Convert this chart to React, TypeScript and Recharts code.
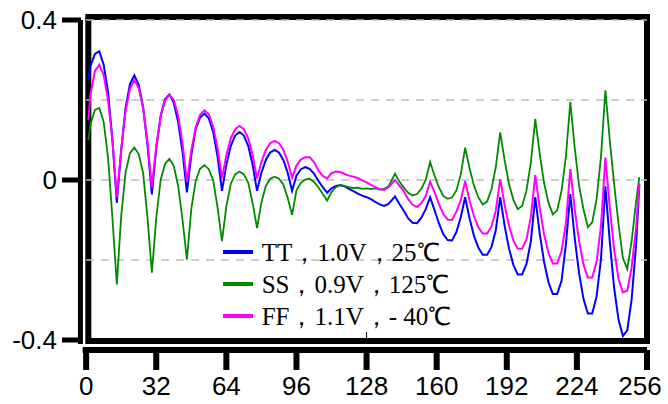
import { LineChart, Line, XAxis, YAxis, Legend, ReferenceLine, ReferenceArea } from 'recharts';

const xs = [
  1, 2, 4, 6, 8, 10, 12, 14, 16, 18, 20, 22, 24, 26, 28, 30, 32, 34, 36, 38, 40, 42, 44, 46, 48, 50,
  52, 54, 56, 58, 60, 62, 64, 66, 68, 70, 72, 74, 76, 78, 80, 82, 84, 86, 88, 90, 92, 94, 96, 98, 100,
  102, 104, 106, 108, 110, 112, 114, 116, 118, 120, 122, 124, 126, 128, 130, 132, 134, 136, 138,
  141, 143, 145, 147, 149, 151, 153, 155, 157, 159, 161, 163, 165, 167, 169, 171, 173, 175, 177, 179,
  181, 183, 185, 187, 189, 191, 193, 195, 197, 199, 201, 203, 205, 207, 209, 211, 213, 215, 217, 219,
  221, 223, 225, 227, 229, 231, 233, 235, 237, 239, 241, 243, 245, 247, 249, 251, 252.5,
];

// TT, 1.0V, 25C
const tt = [
  0.25, 0.285, 0.315, 0.322, 0.288, 0.22, 0.1, -0.057, 0.075, 0.18, 0.24, 0.262, 0.238, 0.182, 0.088,
  -0.036, 0.08, 0.16, 0.202, 0.214, 0.193, 0.145, 0.07, -0.031, 0.062, 0.128, 0.156, 0.166, 0.154,
  0.12, 0.058, -0.027, 0.038, 0.085, 0.111, 0.12, 0.111, 0.085, 0.038, -0.027, 0.018, 0.05, 0.069,
  0.075, 0.069, 0.05, 0.018, -0.027, 0.011, 0.027, 0.032, 0.028, 0.016, -0.002, -0.018, -0.032,
  -0.021, -0.015, -0.013, -0.016, -0.022, -0.028, -0.034, -0.039, -0.043, -0.048, -0.055, -0.061,
  -0.065, -0.06,
  -0.041, -0.06, -0.077, -0.096, -0.107, -0.108, -0.094, -0.073, -0.043, -0.075, -0.108, -0.135,
  -0.15, -0.151, -0.13, -0.093, -0.043, -0.096, -0.139, -0.169, -0.187, -0.187, -0.168, -0.125,
  -0.043, -0.114, -0.171, -0.212, -0.236, -0.236, -0.21, -0.153, -0.043, -0.132, -0.204, -0.255,
  -0.285, -0.285, -0.252, -0.16, -0.035, -0.145, -0.233, -0.297, -0.334, -0.334, -0.291, -0.197,
  -0.016, -0.153, -0.27, -0.349, -0.39, -0.376, -0.298, -0.164, -0.012,
];

// SS, 0.9V, 125C
const ss = [
  0.1, 0.14, 0.175, 0.18, 0.145, 0.055, -0.095, -0.261, -0.09, 0.019, 0.067, 0.081, 0.065, 0.018,
  -0.094, -0.232, -0.095, 0.0, 0.04, 0.053, 0.035, -0.015, -0.1, -0.199, -0.072, -0.003, 0.028, 0.037,
  0.027, -0.001, -0.069, -0.153, -0.066, -0.01, 0.014, 0.021, 0.014, -0.007, -0.058, -0.12, -0.056,
  -0.015, 0.003, 0.008, 0.003, -0.011, -0.045, -0.087, -0.026, -0.007, 0.001, 0.003, -0.005, -0.018,
  -0.035, -0.051, -0.03, -0.018, -0.012, -0.015, -0.018, -0.02, -0.019, -0.022, -0.021, -0.023,
  -0.021, -0.024, -0.022, -0.016,
  0.016, -0.004, -0.019, -0.032, -0.039, -0.035, -0.022, 0.0, 0.045, 0.012, -0.018, -0.04, -0.047,
  -0.044, -0.026, 0.014, 0.081, 0.03, -0.014, -0.043, -0.061, -0.054, -0.023, 0.033, 0.119, 0.05,
  -0.01, -0.049, -0.073, -0.065, -0.026, 0.044, 0.153, 0.067, -0.007, -0.056, -0.086, -0.076, -0.027,
  0.06, 0.195, 0.081, -0.014, -0.073, -0.118, -0.106, -0.047, 0.058, 0.224, 0.1, -0.01, -0.11,
  -0.195, -0.222, -0.152, -0.055, 0.007,
];

// FF, 1.1V, -40C
const ff = [
  0.15, 0.215, 0.272, 0.288, 0.262, 0.2, 0.1, -0.043, 0.075, 0.172, 0.228, 0.25, 0.23, 0.18, 0.095,
  -0.018, 0.084, 0.158, 0.199, 0.213, 0.2, 0.161, 0.091, -0.004, 0.074, 0.131, 0.163, 0.174, 0.164,
  0.133, 0.079, 0.004, 0.062, 0.104, 0.127, 0.135, 0.127, 0.104, 0.062, 0.004, 0.045, 0.075, 0.092,
  0.098, 0.092, 0.076, 0.046, 0.006, 0.036, 0.051, 0.057, 0.057, 0.045, 0.024, 0.01, 0.004, 0.017,
  0.021, 0.02, 0.015, 0.011, 0.008, 0.005, -0.001, -0.006, -0.012, -0.018, -0.023, -0.025, -0.018,
  0.0, -0.014, -0.028, -0.048, -0.062, -0.067, -0.058, -0.04, -0.004, -0.03, -0.06, -0.085, -0.099,
  -0.1, -0.079, -0.05, -0.003, -0.051, -0.09, -0.118, -0.134, -0.134, -0.116, -0.076, 0.002, -0.062,
  -0.114, -0.151, -0.172, -0.172, -0.148, -0.093, 0.012, -0.069, -0.135, -0.182, -0.209, -0.209,
  -0.178, -0.108, 0.027, -0.073, -0.153, -0.211, -0.244, -0.244, -0.204, -0.115, 0.056, -0.068,
  -0.174, -0.247, -0.281, -0.277, -0.218, -0.12, -0.008,
];

const xTicks = [0, 32, 64, 96, 128, 160, 192, 224, 256];
const yTicks = [-0.4, 0, 0.4];
const gridLevels = [0.4, 0.2, 0, -0.2];
const seriesNames = ['TT，1.0V，25℃', 'SS，0.9V，125℃', 'FF，1.1V，- 40℃'];

const data = xs.map((x, i) => ({ x, tt: tt[i], ss: ss[i], ff: ff[i] }));

const sansFont = '"Liberation Sans", Arial, Helvetica, sans-serif';
const serifFont = '"Liberation Serif", "Times New Roman", Times, serif';

const X_TICK = 20;
const X_GAP = 7;
const Y_TICK = 19;
const Y_GAP = 5;

function LegendBox({ payload }: { payload?: any[] }) {
  const items = seriesNames
    .map((name) => (payload || []).find((p) => p.value === name))
    .filter(Boolean);
  return (
    <div style={{ fontFamily: serifFont, fontSize: 25, color: '#000', whiteSpace: 'nowrap' }}>
      {items.map((entry: any) => (
        <div key={entry.value} style={{ display: 'flex', alignItems: 'center', height: 32 }}>
          <svg width={30} height={4} style={{ marginRight: 9, display: 'block' }}>
            <rect width={30} height={4} fill={entry.color} />
          </svg>
          <span>{entry.value}</span>
        </div>
      ))}
    </div>
  );
}

// heavy tick mark + label; the last label is pulled in so it stays on the page
function XTick({ x, y, payload }: any) {
  const shift = payload.value === 256 ? -7 : 0;
  const axisY = y - X_TICK - X_GAP;
  return (
    <g>
      <rect x={x - 3} y={axisY} width={6} height={X_TICK} fill="#000" />
      <text x={x + shift} y={y} dy="0.71em" textAnchor="middle" fill="#000" fontSize={26} fontFamily={sansFont}>
        {payload.value}
      </text>
    </g>
  );
}

// the y spine sits a little right of the plot edge, so the tick is drawn from the label
function YTick({ x, y, payload }: any) {
  return (
    <g>
      <rect x={x + Y_GAP} y={y - 2.5} width={Y_TICK} height={5} fill="#000" />
      <text x={x} y={y} dy="0.355em" textAnchor="end" fill="#000" fontSize={26} fontFamily={sansFont}>
        {payload.value === 0 ? '0' : payload.value.toFixed(1)}
      </text>
    </g>
  );
}

export default function App() {
  return (
    <div style={{ position: 'absolute', left: 0, top: 0 }}>
      <LineChart width={668} height={404} data={data} margin={{ top: 20, right: 21, bottom: 0, left: 0 }}>
        {gridLevels.map((v) => (
          <ReferenceLine
            key={v}
            segment={[{ x: 0, y: v }, { x: 256, y: v }]}
            stroke="#bdbdbd"
            strokeWidth={1.5}
            strokeDasharray="8 7"
          />
        ))}
        <XAxis
          dataKey="x"
          type="number"
          domain={[-6, 256]}
          ticks={xTicks}
          interval={0}
          allowDataOverflow
          height={54}
          axisLine={false}
          tickLine={false}
          tickSize={X_TICK}
          tickMargin={X_GAP}
          tick={<XTick />}
        />
        <YAxis
          type="number"
          domain={[-0.425, 0.4]}
          ticks={yTicks}
          interval={0}
          allowDataOverflow
          width={73}
          axisLine={false}
          tickLine={false}
          tickSize={0}
          tickMargin={16}
          tick={<YTick />}
        />
        <Line type="linear" dataKey="tt" name={seriesNames[0]} stroke="#0000ff" strokeWidth={2} dot={false} isAnimationActive={false} />
        <Line type="linear" dataKey="ss" name={seriesNames[1]} stroke="#008a00" strokeWidth={1.8} dot={false} isAnimationActive={false} />
        <Line type="linear" dataKey="ff" name={seriesNames[2]} stroke="#ff00ff" strokeWidth={2} dot={false} isAnimationActive={false} />
        {/* axis spines */}
        <ReferenceLine
          segment={[{ x: -2.6, y: -0.41 }, { x: -2.6, y: 0.4 }]}
          ifOverflow="visible"
          stroke="#000"
          strokeWidth={5}
        />
        <ReferenceLine
          segment={[{ x: -1.6, y: -0.425 }, { x: 256, y: -0.425 }]}
          ifOverflow="visible"
          stroke="#000"
          strokeWidth={6}
        />
        <ReferenceArea
          x1={1}
          x2={256}
          y1={-0.4025}
          y2={0.4075}
          ifOverflow="visible"
          fill="none"
          fillOpacity={0}
          stroke="#000"
          strokeWidth={6}
        />
        <ReferenceLine segment={[{ x: 128, y: -0.4025 }, { x: 128, y: -0.38 }]} stroke="#000" strokeWidth={1} />
        <Legend
          layout="vertical"
          align="center"
          verticalAlign="middle"
          content={<LegendBox />}
          wrapperStyle={{ left: 222.7, top: 236.3, width: 'auto' }}
        />
      </LineChart>
    </div>
  );
}
